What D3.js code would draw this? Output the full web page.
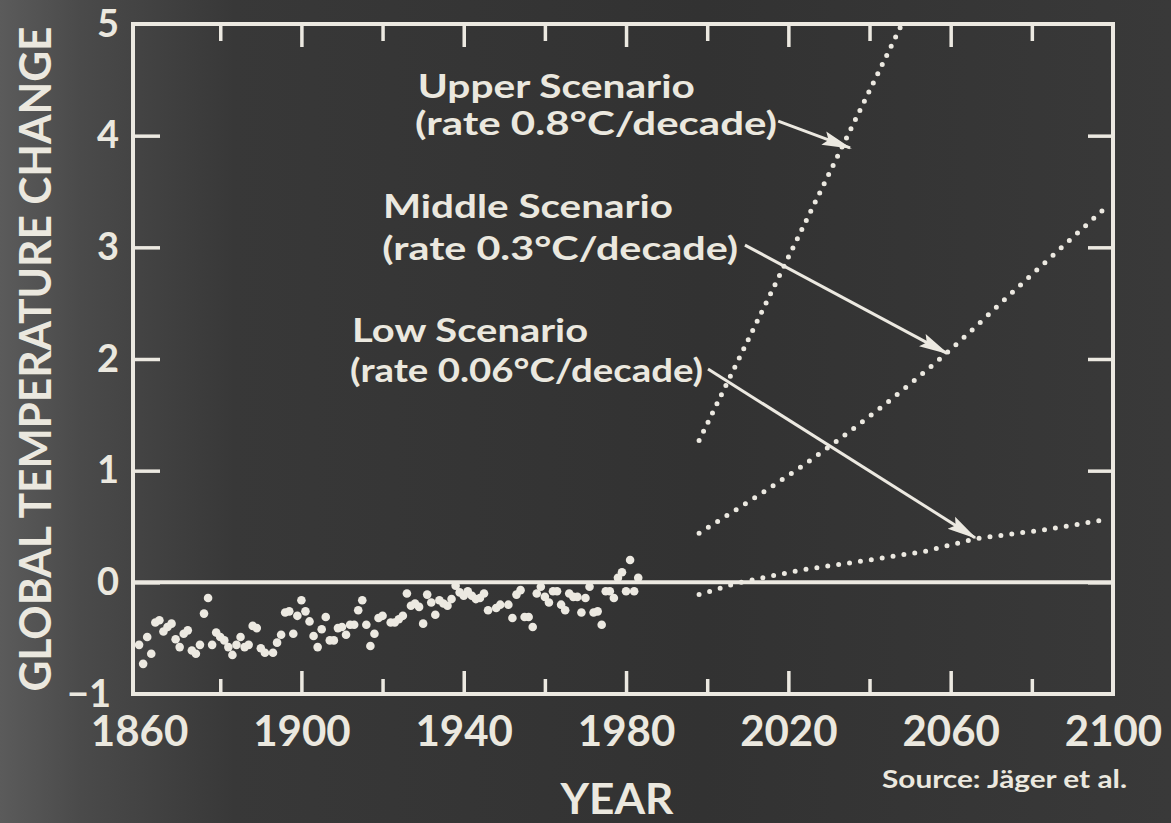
<!DOCTYPE html>
<html>
<head>
<meta charset="utf-8">
<script src="https://cdn.jsdelivr.net/npm/d3@7"></script>
<style>
  html, body { margin: 0; padding: 0; background: #3a3a3a; }
  svg { display: block; }
  text { font-family: Lato, "Open Sans", "DejaVu Sans", sans-serif; font-weight: 700; fill: #ebe8df; }
</style>
</head>
<body>
<svg id="chart" width="1171" height="823"></svg>
<script>
// ---------- data ----------
const obsYears = [
  1860,1861,1862,1863,1864,1865,1866,1867,1868,1869,1870,1871,1872,1873,1874,1875,1876,1877,1878,1879,
  1880,1881,1882,1883,1884,1885,1886,1887,1888,
  1889,1890,1891,1893,1894,1895,1896,1897,1898,1899,1900,1901,1902,1903,1904,1905,1906,1907,1908,1909,
  1910,1911,1912,1913,1914,1915,1916,1917,1918,1919,1920,
  1922,1923,1924,1925,1926,1927,1928,1929,1930,1931,1932,1933,1934,1935,1936,1937,1938,1939,1940,1941,
  1942,1943,1944,1945,1946,1948,1949,
  1951,1952,1953,1954,1955,1956,1957,1958,1959,1960,1961,1962,1963,1964,1965,1966,1967,1968,1969,1970,
  1971,1972,1973,1974,1975,1976,1977,1978,1979,1980,1981,1982,1983
];
const obsValues = [
  -0.56,-0.73,-0.49,-0.64,-0.36,-0.34,-0.44,-0.40,-0.37,-0.51,-0.58,-0.46,-0.43,-0.61,-0.64,-0.56,-0.28,-0.14,-0.56,-0.45,
  -0.49,-0.52,-0.58,-0.65,-0.56,-0.49,-0.58,-0.56,-0.39,
  -0.41,-0.59,-0.63,-0.63,-0.54,-0.47,-0.27,-0.26,-0.46,-0.30,-0.16,-0.26,-0.35,-0.48,-0.58,-0.42,-0.31,-0.52,-0.52,-0.41,
  -0.40,-0.47,-0.38,-0.38,-0.25,-0.16,-0.38,-0.57,-0.46,-0.32,-0.30,
  -0.36,-0.36,-0.33,-0.30,-0.10,-0.21,-0.19,-0.22,-0.37,-0.11,-0.18,-0.29,-0.16,-0.19,-0.21,-0.15,-0.03,-0.09,-0.12,-0.08,
  -0.12,-0.15,-0.14,-0.10,-0.25,-0.23,-0.20,
  -0.20,-0.32,-0.11,-0.07,-0.31,-0.31,-0.40,-0.10,-0.04,-0.13,-0.18,-0.08,-0.08,-0.20,-0.25,-0.10,-0.13,-0.13,-0.27,-0.14,
  -0.04,-0.27,-0.26,-0.38,-0.08,-0.08,-0.14,0.04,0.09,-0.08,0.20,-0.08,0.04
];

const upperYears  = [1998, 2048];
const upperValues = [1.27, 5.0];
const middleYears  = [1998, 2031, 2057, 2078, 2098];
const middleValues = [0.44, 1.24, 1.99, 2.69, 3.35];
const lowYears  = [1998, 2007, 2023, 2040, 2054, 2066, 2083, 2098];
const lowValues = [-0.11, -0.01, 0.11, 0.20, 0.28, 0.39, 0.47, 0.56];

const xLabelYears = [1860, 1900, 1940, 1980, 2020, 2060, 2100];
const xMinorYears = [1880, 1920, 1960, 2000, 2040, 2080];
const yTickValues = [-1, 0, 1, 2, 3, 4, 5];

const scenarioTitles = ["Upper Scenario", "Middle Scenario", "Low Scenario"];
const scenarioRates  = ["(rate 0.8°C/decade)", "(rate 0.3°C/decade)", "(rate 0.06°C/decade)"];

// ---------- layout ----------
const W = 1171, H = 823;
const plot = { left: 133, right: 1113, top: 24, bottom: 694 };
const ink = "#ece9e1";

const svg = d3.select("#chart");
const defs = svg.append("defs");

// photographic background
const bg = defs.append("linearGradient").attr("id", "bg").attr("x1", 0).attr("x2", 1).attr("y1", 0).attr("y2", 0);
bg.append("stop").attr("offset", "0%").attr("stop-color", "#5b5b5b");
bg.append("stop").attr("offset", "7%").attr("stop-color", "#4a4a4a");
bg.append("stop").attr("offset", "20%").attr("stop-color", "#383838");
bg.append("stop").attr("offset", "60%").attr("stop-color", "#323232");
bg.append("stop").attr("offset", "100%").attr("stop-color", "#393939");
svg.append("rect").attr("width", W).attr("height", H).attr("fill", "url(#bg)");

const x = d3.scaleLinear().domain([1858.5, 2100]).range([plot.left, plot.right]);
const y = d3.scaleLinear().domain([-1, 5]).range([plot.bottom, plot.top]);

// arrowhead marker
defs.append("marker")
  .attr("id", "head").attr("markerUnits", "userSpaceOnUse")
  .attr("viewBox", "0 -8 30 16").attr("refX", 28).attr("refY", 0)
  .attr("markerWidth", 30).attr("markerHeight", 16).attr("orient", "auto")
  .append("path").attr("d", "M0,-7 L30,0 L0,7 L5,0 Z").attr("fill", ink);

// ---------- axes ----------
function styleAxis(g) {
  g.select(".domain").remove();
  g.selectAll(".tick line").attr("stroke", ink).attr("stroke-width", 3.5);
}

// bottom: long labelled ticks
const gxB = svg.append("g").attr("transform", `translate(0,${plot.bottom})`)
  .call(d3.axisBottom(x).tickValues(xLabelYears).tickFormat(d3.format("d")).tickSizeInner(-23).tickSizeOuter(0).tickPadding(22));
styleAxis(gxB);
gxB.selectAll(".tick").filter(d => d === 1860 || d === 2100).select("line").remove();
gxB.selectAll(".tick text").attr("font-size", 42).attr("fill", ink).attr("font-family", "Lato, sans-serif").attr("font-weight", 700);
// bottom: short ticks
const gxB2 = svg.append("g").attr("transform", `translate(0,${plot.bottom})`)
  .call(d3.axisBottom(x).tickValues(xMinorYears).tickFormat("").tickSizeInner(-15).tickSizeOuter(0));
styleAxis(gxB2);
// top ticks
const gxT = svg.append("g").attr("transform", `translate(0,${plot.top})`)
  .call(d3.axisTop(x).tickValues(xLabelYears.filter(d => d !== 1860 && d !== 2100)).tickFormat("").tickSizeInner(-23).tickSizeOuter(0));
styleAxis(gxT);
const gxT2 = svg.append("g").attr("transform", `translate(0,${plot.top})`)
  .call(d3.axisTop(x).tickValues(xMinorYears).tickFormat("").tickSizeInner(-17).tickSizeOuter(0));
styleAxis(gxT2);

// left axis
const gyL = svg.append("g").attr("transform", `translate(${plot.left},0)`)
  .call(d3.axisLeft(y).tickValues(yTickValues).tickFormat(d => d < 0 ? "\u2212" + Math.abs(d) : d).tickSizeInner(-27).tickSizeOuter(0).tickPadding(25));
styleAxis(gyL);
gyL.selectAll(".tick").filter(d => d === -1 || d === 5).select("line").remove();
gyL.selectAll(".tick text").attr("font-size", 38).attr("fill", ink)
  .attr("font-family", "Lato, sans-serif").attr("font-weight", 700)
  .attr("text-anchor", d => d < 0 ? "end" : "middle")
  .attr("x", d => d < 0 ? -22 : -25);

// right axis ticks
const gyR = svg.append("g").attr("transform", `translate(${plot.right},0)`)
  .call(d3.axisRight(y).tickValues(yTickValues.filter(d => d > -1 && d < 5)).tickFormat("").tickSizeInner(-25).tickSizeOuter(0));
styleAxis(gyR);

// frame
svg.append("rect")
  .attr("x", plot.left).attr("y", plot.top)
  .attr("width", plot.right - plot.left).attr("height", plot.bottom - plot.top)
  .attr("fill", "none").attr("stroke", ink).attr("stroke-width", 4);

// zero line
svg.append("line")
  .attr("x1", plot.left).attr("x2", plot.right)
  .attr("y1", y(0)).attr("y2", y(0))
  .attr("stroke", ink).attr("stroke-width", 4);

// ---------- observations ----------
const obs = obsYears.map((yr, i) => ({ year: yr, value: obsValues[i] }));
svg.append("g").selectAll("circle").data(obs).join("circle")
  .attr("cx", d => x(d.year)).attr("cy", d => y(d.value))
  .attr("r", 4.3).attr("fill", ink);

// ---------- scenario projections (dotted) ----------
const lineGen = d3.line().x(d => x(d.year)).y(d => y(d.value));
const scenarios = [
  { years: upperYears, values: upperValues, curve: d3.curveLinear, gap: 10.2 },
  { years: middleYears, values: middleValues, curve: d3.curveMonotoneX, gap: 11 },
  { years: lowYears, values: lowValues, curve: d3.curveLinear, gap: 11 }
];
scenarios.forEach(s => {
  const pts = s.years.map((yr, i) => ({ year: yr, value: s.values[i] }));
  svg.append("path")
    .attr("d", lineGen.curve(s.curve)(pts))
    .attr("fill", "none").attr("stroke", ink)
    .attr("stroke-width", 5).attr("stroke-linecap", "round")
    .attr("stroke-dasharray", `0 ${s.gap}`);
});

// ---------- annotations ----------
const annTitlePos = [ [1928.7, 4.337], [1920.1, 3.263], [1912.5, 2.149] ];
const annRatePos  = [ [1928.0, 4.006], [1919.9, 2.887], [1912.0, 1.791] ];
const titleLen = [277, 290, 236];
const rateLen  = [362, 356, 353];
const arrowFrom = [ [2017.5, 4.13], [2009.3, 3.02], [2000.2, 1.91] ];
const arrowTo   = [ [2035.2, 3.89], [2059.1, 2.05], [2066.0, 0.40] ];

const ann = svg.append("g");
scenarioTitles.forEach((t, i) => {
  ann.append("text").attr("x", x(annTitlePos[i][0])).attr("y", y(annTitlePos[i][1]))
    .attr("font-size", 32).attr("textLength", titleLen[i]).attr("lengthAdjust", "spacingAndGlyphs").text(t);
  ann.append("text").attr("x", x(annRatePos[i][0])).attr("y", y(annRatePos[i][1]))
    .attr("font-size", 32).attr("textLength", rateLen[i]).attr("lengthAdjust", "spacingAndGlyphs").text(scenarioRates[i]);
  ann.append("line")
    .attr("x1", x(arrowFrom[i][0])).attr("y1", y(arrowFrom[i][1]))
    .attr("x2", x(arrowTo[i][0])).attr("y2", y(arrowTo[i][1]))
    .attr("stroke", ink).attr("stroke-width", 3).attr("marker-end", "url(#head)");
});

// ---------- titles ----------
svg.append("text")
  .attr("transform", `translate(51,${(plot.top + plot.bottom) / 2}) rotate(-90)`)
  .attr("text-anchor", "middle").attr("font-size", 44)
  .attr("textLength", 665).attr("lengthAdjust", "spacingAndGlyphs")
  .text("GLOBAL TEMPERATURE CHANGE");

svg.append("text")
  .attr("x", 617).attr("y", 814).attr("text-anchor", "middle")
  .attr("font-size", 42).attr("textLength", 113).attr("lengthAdjust", "spacingAndGlyphs")
  .text("YEAR");

svg.append("text")
  .attr("x", 882).attr("y", 788)
  .attr("font-size", 25).attr("textLength", 245).attr("lengthAdjust", "spacingAndGlyphs")
  .text("Source: Jäger et al.");
</script>
</body>
</html>
